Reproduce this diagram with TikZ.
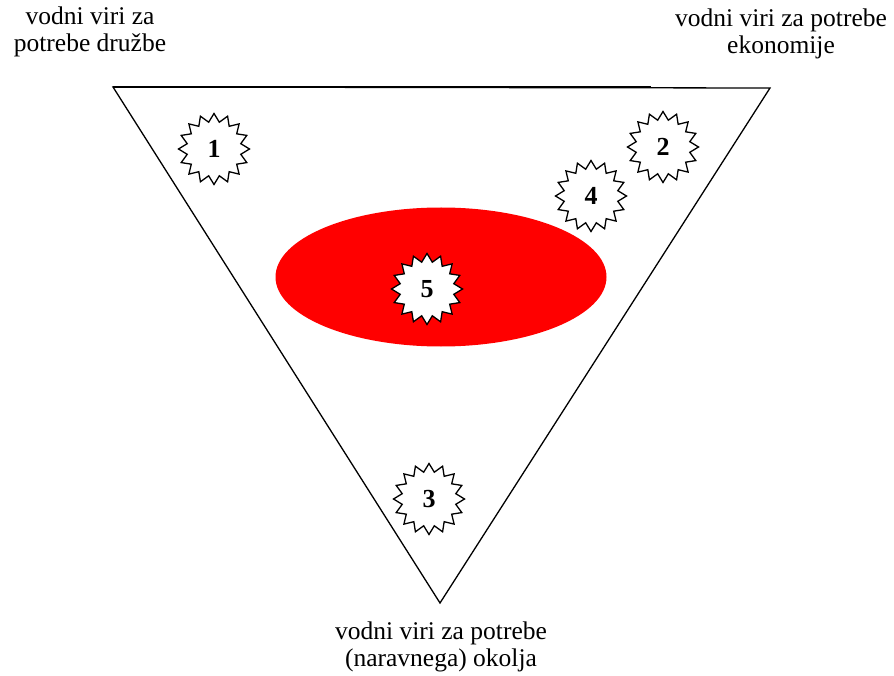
\documentclass[tikz,border=0pt]{standalone}
\usepackage{fontspec}
\setmainfont{Liberation Serif}
\usetikzlibrary{positioning,shapes.geometric}
\begin{document}
\begin{tikzpicture}[x=1pt,y=-1pt,
		burst/.style={draw, star, star points=16, star point ratio=1.3,%
			minimum size=71pt, inner sep=0pt, fill=white, line width=1.3pt,%
			font=\fontsize{26}{28}\selectfont\bfseries},
		corner/.style={align=center, font=\fontsize{25.5}{27}\selectfont}]
	\useasboundingbox (0,0) rectangle (894,676);
	
	% triangle
	\coordinate (A) at (113,87);
	\coordinate (T) at (651,87);
	\coordinate (B) at (770,88);
	\coordinate (C) at (440,603);
	\draw[line width=1.3pt] (A) -- (B) -- (C) -- cycle;
	\draw[line width=2pt] (A) -- (T);
	
	% overlap zone
	\node (zone) [ellipse, fill=red, minimum width=331pt, minimum height=139pt,%
		inner sep=0pt] at (441,277) {};
	
	% the five stars
	\node (s1) [burst] at (214,149) {1};
	\node (s2) [burst] at (663,147) {2};
	\node (s3) [burst] at (429,499) {3};
	\node (s4) [burst] at (591,196) {4};
	\node (s5) [burst] at (427,289) {5};
	
	% labels at the corners
	\node (soc) [corner] at (90,32) {vodni viri za\\potrebe družbe};
	\node (eco) [corner] at (781,34) {vodni viri za potrebe\\ekonomije};
	\node (env) [corner] at (441,647) {vodni viri za potrebe\\(naravnega) okolja};
\end{tikzpicture}
\end{document}
